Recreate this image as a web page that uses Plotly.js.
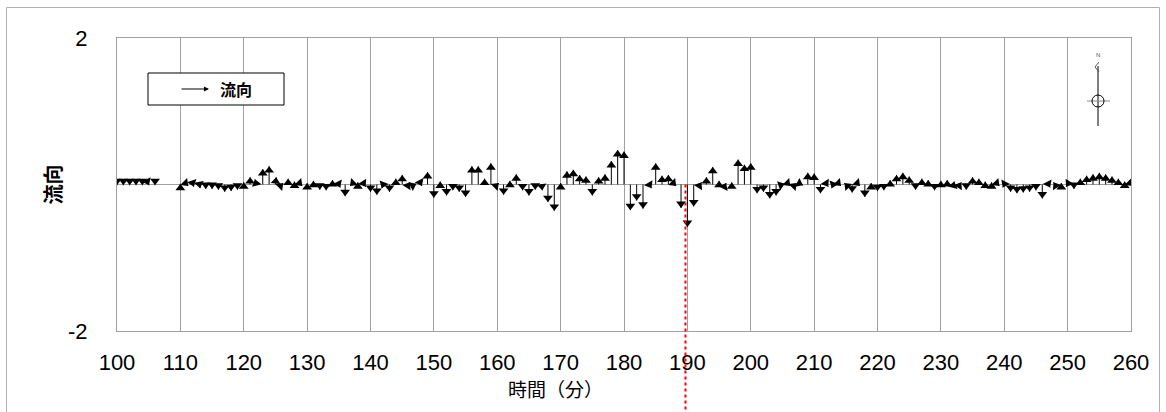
<!DOCTYPE html>
<html>
<head>
<meta charset="utf-8">
<script src="https://cdn.plot.ly/plotly-3.0.1.min.js"></script>
<style>
  html, body { margin: 0; padding: 0; background: #fff; }
  #chart { width: 1166px; height: 412px; }
</style>
</head>
<body>
<div id="chart"></div>
<script>
// ---- data ----
// time in minutes, one vector per minute; null = no data
const timeStart = 100, timeEnd = 260;
// northward component (stick height)
const vNorth = [
  -0.01,-0.01,-0.01,-0.01,-0.01,-0.01,-0.01, null, null, null,   // 100-109
   0.01,-0.02,-0.03,-0.05,-0.06,-0.06,-0.07,-0.10,-0.09,-0.07,   // 110-119
   0.03, 0.10, 0.07, 0.21, 0.25, 0.10, 0.02, 0.08, 0.04,-0.02,   // 120-129
   0.02, 0.05,-0.07,-0.08, 0.06,-0.04,-0.16,-0.02, 0.03,-0.03,   // 130-139
  -0.10,-0.14,-0.05,-0.10, 0.08, 0.13, 0.03, 0.01,-0.02, 0.17,   // 140-149
  -0.18, 0.04,-0.15,-0.08,-0.10,-0.17, 0.25, 0.25, 0.08, 0.29,   // 150-159
   0.02,-0.14, 0.05, 0.14,-0.08,-0.15,-0.07,-0.08,-0.24,-0.36,   // 160-169
   0.02, 0.18, 0.20, 0.13, 0.11,-0.15, 0.10, 0.14, 0.32, 0.47,   // 170-179
   0.45,-0.35,-0.22,-0.33,-0.05, 0.29, 0.12, 0.13,-0.02,-0.32,   // 180-189
  -0.58,-0.30, 0.03, 0.10, 0.24, 0.05, 0.02, 0.03, 0.34, 0.27,   // 190-199
   0.29,-0.12,-0.10,-0.19,-0.15, 0.01,-0.02, 0.02,-0.01, 0.16,   // 200-209
   0.15,-0.12,-0.03,-0.05,-0.02, 0.02,-0.11,-0.02,-0.17, 0.02,   // 210-219
  -0.09,-0.08, 0.06, 0.13, 0.16, 0.11,-0.07, 0.08, 0.06,-0.08,   // 220-229
   0.05, 0.06, 0.04, 0.03,-0.07, 0.10, 0.08, 0.04, 0.03,-0.02,   // 230-239
  -0.04,-0.10,-0.12,-0.11,-0.10,-0.08,-0.19,-0.04, 0.03, 0.02,   // 240-249
  -0.03,-0.06, 0.08, 0.12, 0.14, 0.16, 0.14, 0.11, 0.08, 0.04,   // 250-259
  -0.02                                                          // 260
];
// eastward component (tilts the arrow)
const uEast = [
   0, 0, 0, 0, 0, 0.005, 0, null, null, null,
   0, 0.02, 0.01, 0.01, 0, 0, 0, 0, 0, 0,
   0, 0,-0.02, 0, 0, 0.01, 0.02, 0, 0, 0.02,
   0, 0, 0, 0, 0, 0.02, 0,-0.02, 0, 0.02,
   0, 0,-0.02, 0, 0, 0, 0.02, 0.02, 0.01, 0,
   0, 0, 0, 0, 0, 0, 0, 0, 0, 0,
   0.02, 0, 0, 0, 0, 0, 0, 0.01, 0, 0,
   0, 0, 0, 0, 0, 0, 0, 0, 0, 0,
   0, 0, 0, 0, 0.03, 0, 0, 0, 0.02, 0,
   0, 0, 0.02, 0, 0, 0, 0.01, 0, 0, 0,
   0, 0, 0, 0, 0, 0.03, 0.02, 0.02, 0.02, 0,
   0, 0, 0.02,-0.02, 0.02,-0.02, 0, 0.02, 0, 0,
   0, 0, 0, 0, 0, 0, 0, 0, 0, 0,
   0, 0, 0.01, 0.02, 0, 0, 0, 0, 0, 0.02,
  -0.02, 0, 0, 0, 0, 0, 0, 0.02,-0.02, 0,
  -0.02, 0, 0, 0, 0, 0, 0, 0, 0, 0,
   0.02
];
const xTickVals = [100,110,120,130,140,150,160,170,180,190,200,210,220,230,240,250,260];
const yTickVals = [-2, 2];
const markerTime = 189.7;   // red dotted reference line

// ---- geometry of the plot area ----
const W = 1166, H = 412;
const M = {l: 117, r: 35, t: 38, b: 81};
const plotW = W - M.l - M.r, plotH = H - M.t - M.b;
const xRange = [100, 260], yRange = [-2, 2];
const pxPerMin = plotW / (xRange[1] - xRange[0]);
const pxPerUnit = plotH / (yRange[1] - yRange[0]);
const K = pxPerUnit / pxPerMin;  // converts east component into minutes so the vector keeps its true angle

// build sticks and heads
const lx = [], ly = [], hx = [], hy = [], ha = [];
for (let i = 0; i < vNorth.length; i++) {
  const t = timeStart + i;
  const v = vNorth[i], u = uEast[i];
  if (v === null || u === null) continue;
  const ex = t + u * K, ey = v;
  lx.push(t, ex, null); ly.push(0, ey, null);
  hx.push(ex); hy.push(ey);
  ha.push(Math.atan2(u * pxPerUnit, v * pxPerUnit) * 180 / Math.PI);
}
const headSize = 8.5;

const traces = [
  {x: lx, y: ly, type: 'scatter', mode: 'lines', line: {color: '#000', width: 1},
   hoverinfo: 'skip', showlegend: false, connectgaps: false},
  {x: hx, y: hy, type: 'scatter', mode: 'markers', hoverinfo: 'skip', showlegend: false,
   marker: {symbol: 'triangle-up', size: headSize, color: '#000', angle: ha,
            standoff: headSize / 2, line: {width: 0}}}
];

// pixel -> paper helpers for decorations
const px = p => (p - M.l) / plotW;
const py = p => (H - M.b - p) / plotH;

const gray = '#a0a0a0';
const shapes = [
  // outer chart border
  {type: 'rect', xref: 'paper', yref: 'paper', x0: px(6.5), x1: px(1159.5), y0: py(430), y1: py(7.5),
   line: {color: '#b0b0b0', width: 1}, fillcolor: 'rgba(0,0,0,0)', layer: 'below'},
  // legend box
  {type: 'rect', xref: 'paper', yref: 'paper', x0: px(148), x1: px(284), y0: py(105), y1: py(73),
   line: {color: '#000', width: 1}, fillcolor: '#fff', layer: 'above'},
  // red dotted line at the marked time
  {type: 'line', xref: 'x', yref: 'paper', x0: markerTime, x1: markerTime, y0: py(184.5), y1: py(415),
   line: {color: '#ff0000', width: 2, dash: 'dot'}, layer: 'above'},
  // north indicator
  {type: 'line', xref: 'paper', yref: 'paper', x0: px(1098), x1: px(1098), y0: py(66), y1: py(126),
   line: {color: '#000', width: 1}},
  {type: 'line', xref: 'paper', yref: 'paper', x0: px(1087), x1: px(1110), y0: py(101), y1: py(101),
   line: {color: '#888', width: 1}},
  {type: 'circle', xref: 'paper', yref: 'paper', x0: px(1092), x1: px(1104), y0: py(107), y1: py(95),
   line: {color: '#000', width: 1}, fillcolor: 'rgba(0,0,0,0)'},
  {type: 'path', xref: 'paper', yref: 'paper',
   path: 'M' + px(1099) + ',' + py(62) + ' L' + px(1095) + ',' + py(67) + ' L' + px(1099) + ',' + py(72),
   line: {color: '#555', width: 1}}
];

const annotations = [
  // legend arrow
  {xref: 'paper', yref: 'paper', x: px(209), y: py(89), ax: -29, ay: 0, text: '', showarrow: true,
   arrowhead: 2, arrowsize: 1, arrowwidth: 1, arrowcolor: '#000'},
  {xref: 'paper', yref: 'paper', x: px(218), y: py(89), xanchor: 'left', yanchor: 'middle',
   text: '<b>流向</b>', showarrow: false,
   font: {family: 'Noto Sans CJK JP', size: 16, color: '#000'}},
  {xref: 'paper', yref: 'paper', x: px(1098), y: py(55), xanchor: 'center', yanchor: 'middle',
   text: 'N', showarrow: false, font: {family: 'Liberation Sans', size: 6, color: '#555'}},
  // x axis title (placed left of centre, as in the original)
  {xref: 'paper', yref: 'paper', x: px(555), y: py(388), xanchor: 'center', yanchor: 'middle',
   text: '時間（分）', showarrow: false,
   font: {family: 'Noto Sans CJK JP', size: 19, color: '#000'}}
];

const layout = {
  width: W, height: H,
  margin: {l: M.l, r: M.r, t: M.t, b: M.b, pad: 0},
  paper_bgcolor: '#fff', plot_bgcolor: '#fff',
  showlegend: false,
  xaxis: {
    range: xRange, tickvals: xTickVals, ticktext: xTickVals.map(String),
    showgrid: true, gridcolor: gray, gridwidth: 1, zeroline: false,
    showline: true, mirror: true, linecolor: gray, linewidth: 1,
    ticks: '', ticklabelstandoff: 12, automargin: false,
    tickfont: {family: 'Liberation Sans', size: 22, color: '#000'}
  },
  yaxis: {
    range: yRange, tickvals: yTickVals, ticktext: yTickVals.map(String),
    showgrid: true, gridcolor: gray, gridwidth: 1,
    zeroline: true, zerolinecolor: gray, zerolinewidth: 1.5,
    showline: true, mirror: true, linecolor: gray, linewidth: 1,
    ticks: '', ticklabelstandoff: 24, automargin: false,
    tickfont: {family: 'Liberation Sans', size: 22, color: '#000'},
    title: {text: '<b>流向</b>', standoff: 1,
            font: {family: 'Noto Sans CJK JP', size: 20, color: '#000'}}
  },
  shapes: shapes,
  annotations: annotations
};

Plotly.newPlot('chart', traces, layout, {displayModeBar: false, staticPlot: true});
</script>
</body>
</html>
